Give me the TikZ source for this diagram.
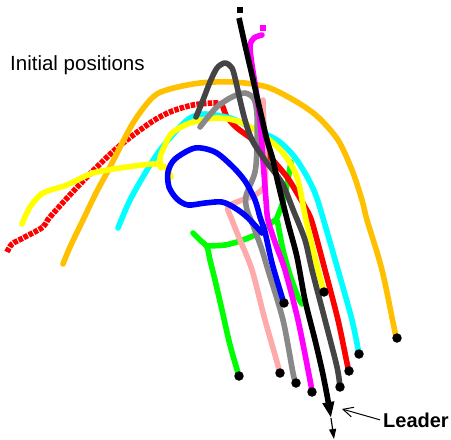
\documentclass[tikz,border=0pt]{standalone}
\usepackage{fontspec}
\setmainfont{Liberation Sans}
\usetikzlibrary{arrows.meta}
\definecolor{cOrange}{RGB}{255,192,0}
\definecolor{cPink}{RGB}{255,170,170}
\definecolor{cGray}{RGB}{136,136,136}
\definecolor{cDark}{RGB}{68,68,68}
\definecolor{cRed}{RGB}{255,0,0}
\definecolor{cCyan}{RGB}{0,255,255}
\definecolor{cYellow}{RGB}{255,255,0}
\definecolor{cGreen}{RGB}{0,255,0}
\definecolor{cBlue}{RGB}{0,0,255}
\definecolor{cMagenta}{RGB}{255,0,255}
\begin{document}
\begin{tikzpicture}[x=1pt,y=-1pt,
  traj/.style={line width=5.6pt, line cap=round, line join=round},
  enddot/.style={fill=black, circle, inner sep=0pt, minimum size=9.5pt},
  startsq/.style={fill=#1, inner sep=0pt, minimum size=5.5pt},
  lbl/.style={inner sep=0pt, anchor=base west}]
\useasboundingbox (0,0) rectangle (451,440);

% green upper spur (mostly hidden)
\draw[traj, cGreen] plot[smooth, tension=0.5] coordinates {(276,220) (282,205) (286,190) (291,162)};

% red
\draw[traj, cRed, line cap=butt, dash pattern=on 4.5pt off 1.2pt] plot[smooth, tension=0.5] coordinates {(7,252) (12,244) (23,238) (43,227) (50,217) (83,181) (117,148) (150,123) (170,112) (193,105) (217,103) (223,107)};
\draw[traj, cRed] plot[smooth, tension=0.5] coordinates {(223,107) (227,117) (237,128) (253,140) (270,157) (287,177) (297,193) (305,207) (312,222) (325,270) (338,320) (347,363) (349,371)};

% orange
\draw[traj, cOrange] plot[smooth, tension=0.5] coordinates {(63,264) (70,247) (83,220) (96,193) (110,167) (133,123) (153,97) (170,89) (200,83) (233,82) (267,87) (297,102) (318,117) (338,140) (352,170) (362,200) (367,220) (382,270) (395,332) (397,338)};

% cyan
\draw[traj, cCyan] plot[smooth, tension=0.5] coordinates {(118,228) (130,200) (147,170) (160,150) (177,130) (190,118) (205,114) (230,118) (252,128) (277,140) (293,155) (305,173) (315,193) (323,218) (338,270) (352,320) (359,354)};

% yellow
\draw[traj, cYellow] plot[smooth, tension=0.5] coordinates {(22,224) (30,207) (43,193) (67,185) (93,173) (127,167) (153,164) (163,166) (168,170) (171,177)};
\draw[traj, cYellow] plot[smooth, tension=0.5] coordinates {(161,168) (160,158) (165,145) (172,133) (190,123) (217,118) (240,122) (263,135) (283,153) (297,177) (306,220) (318,270) (324,292)};

% green
\draw[traj, cGreen] plot[smooth, tension=0.5] coordinates {(193,233) (200,240) (207,247) (210,260) (215,280) (222,310) (230,345) (239,376)};
\draw[traj, cGreen] plot[smooth, tension=0.5] coordinates {(207,246) (225,245) (240,241) (255,235) (265,228) (276,220) (279,230) (283,250) (290,275) (298,297) (302,304)};

% pink
\draw[traj, cPink] plot[smooth, tension=0.5] coordinates {(263,100) (264,130) (265,160) (265,185) (255,195) (242,200) (228,207) (232,220) (240,240) (252,270) (265,320) (275,355) (280,373)};

% gray
\draw[traj, cGray] plot[smooth, tension=0.5] coordinates {(200,127) (208,117) (218,106) (232,97) (245,93) (254,99) (257,115) (257,145) (255,172) (246,196) (247,210) (253,225) (262,250) (268,270) (283,320) (293,373) (296,383)};

% blue
\draw[traj, cBlue] plot[smooth, tension=0.5] coordinates {(262,233) (247,217) (235,208) (222,202) (205,203) (188,205) (177,199) (169,187) (168,172) (175,159) (195,148) (215,152) (232,166) (245,181) (255,200) (260,217) (265,232) (272,263) (282,297) (284,303)};

% magenta
\node[startsq=cMagenta] (mstart) at (263,28) {};
\draw[traj, cMagenta] plot[smooth, tension=0.5] coordinates {(262,35) (254,38) (250,46) (252,65) (256,90) (260,120) (263,160) (266,200) (268,220) (276,245) (285,270) (298,320) (310,380) (312,392)};

% dark gray
\draw[traj, cDark] plot[smooth, tension=0.5] coordinates {(196,117) (203,100) (210,82) (217,68) (225,63) (232,68) (236,82) (240,100) (245,120) (252,140) (265,160) (282,183) (294,212) (305,240) (312,270) (325,320) (337,367) (340,387)};

% black (leader)
\node[startsq=black] (bstart) at (240,10) {};
\coordinate (btip) at (331,418);
\coordinate (bend) at (334,439);
\draw[traj, black, line cap=butt, -{Triangle[length=16pt,width=11pt]}] plot[smooth, tension=0.5] coordinates {(239,18) (245,45) (252,75) (260,110) (267,140) (273,160) (278,183) (288,223) (297,257) (305,300) (315,340) (322,370) (327,395) (331,418)};
\draw[line width=1.2pt, -{Triangle[length=10pt,width=7pt]}] (btip) -- (bend);

% end dots
\foreach \p/\n in {{(239,376)}/dgreen, {(280,373)}/dpink, {(296,383)}/dgray, {(312,392)}/dmag, {(340,387)}/ddark, {(349,371)}/dred, {(359,354)}/dcyan, {(397,338)}/dorange, {(284,303)}/dblue, {(324,292)}/dyellow}
  \node[enddot] (\n) at \p {};

% labels
\node[lbl, font=\fontsize{20.5}{24}\selectfont] (init) at (10,70) {Initial positions};
\node[lbl, font=\fontsize{20}{24}\selectfont\bfseries] (leader) at (383,427) {Leader};
\coordinate (lpt) at (342,409);
\draw[line width=1pt, -{Straight Barb[length=10pt,width=10pt]}] (leader.west) ++(-3,0) -- (lpt);
\end{tikzpicture}
\end{document}
